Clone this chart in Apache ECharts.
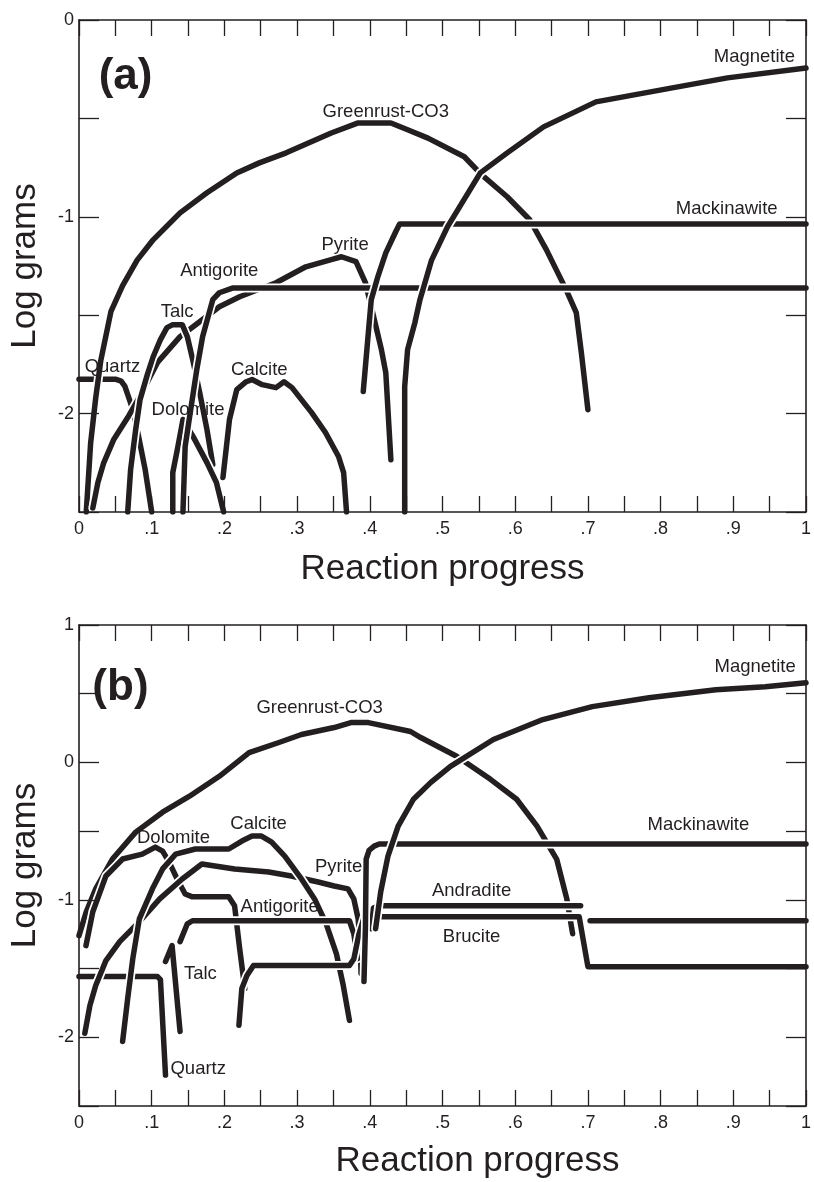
<!DOCTYPE html>
<html><head><meta charset="utf-8">
<script src="https://cdn.jsdelivr.net/npm/echarts/dist/echarts.min.js"></script>
<style>html,body{margin:0;padding:0;background:#fff}#c{width:814px;height:1182px}</style>
</head><body><div id="c"></div><script>
// ---------- tick labels ----------
const xTickLabels = ['0','.1','.2','.3','.4','.5','.6','.7','.8','.9','1'];
const yTickLabelsA = ['-2','-1','0'];
const yTickLabelsB = ['-2','-1','0','1'];

// ---------- panel (a) ----------
const quartzA = [[0,-1.825],[0.05,-1.825],[0.058,-1.835],[0.063,-1.86],[0.068,-1.914],[0.074,-1.98],[0.082,-2.117],[0.091,-2.284],[0.100,-2.5]];
const greenrustA = [[0.010,-2.5],[0.016,-2.15],[0.023,-1.92],[0.030,-1.73],[0.044,-1.48],[0.060,-1.35],[0.080,-1.22],[0.102,-1.117],[0.139,-0.98],[0.176,-0.878],[0.217,-0.777],[0.248,-0.726],[0.285,-0.675],[0.347,-0.574],[0.384,-0.523],[0.429,-0.523],[0.452,-0.558],[0.480,-0.60],[0.530,-0.695],[0.554,-0.787],[0.589,-0.898],[0.620,-1.015],[0.643,-1.168],[0.670,-1.37],[0.684,-1.487],[0.691,-1.69],[0.700,-1.98]];
const magnetiteA = [[0.448,-2.5],[0.448,-1.863],[0.452,-1.675],[0.462,-1.538],[0.469,-1.421],[0.485,-1.22],[0.507,-1.05],[0.552,-0.777],[0.589,-0.675],[0.639,-0.543],[0.711,-0.416],[0.816,-0.345],[0.892,-0.294],[1.0,-0.244]];
const mackinawiteA = [[0.391,-1.888],[0.398,-1.589],[0.402,-1.421],[0.411,-1.305],[0.422,-1.183],[0.435,-1.081],[0.441,-1.036],[1.0,-1.036]];
const pyriteA = [[0.019,-2.48],[0.026,-2.35],[0.034,-2.25],[0.048,-2.13],[0.067,-2.02],[0.084,-1.91],[0.108,-1.74],[0.139,-1.609],[0.166,-1.533],[0.193,-1.457],[0.221,-1.406],[0.271,-1.335],[0.312,-1.254],[0.347,-1.218],[0.361,-1.203],[0.381,-1.228],[0.394,-1.335],[0.402,-1.457],[0.416,-1.675],[0.422,-1.792],[0.429,-2.234]];
const antigoriteA = [[0.143,-2.5],[0.146,-2.168],[0.153,-1.995],[0.162,-1.777],[0.170,-1.609],[0.184,-1.421],[0.193,-1.386],[0.211,-1.362],[1.0,-1.362]];
const talcA = [[0.067,-2.5],[0.071,-2.284],[0.078,-2.08],[0.084,-1.929],[0.094,-1.802],[0.102,-1.711],[0.112,-1.624],[0.121,-1.563],[0.129,-1.548],[0.142,-1.548],[0.149,-1.609],[0.157,-1.736],[0.166,-1.893],[0.176,-2.081],[0.184,-2.259]];
const dolomiteA = [[0.129,-2.5],[0.129,-2.30],[0.136,-2.168],[0.143,-2.03],[0.157,-2.117],[0.176,-2.249],[0.189,-2.35],[0.199,-2.5]];
const calciteA = [[0.198,-2.325],[0.207,-2.03],[0.217,-1.878],[0.230,-1.838],[0.238,-1.827],[0.252,-1.853],[0.271,-1.868],[0.282,-1.838],[0.293,-1.868],[0.320,-1.995],[0.339,-2.096],[0.357,-2.218],[0.364,-2.3],[0.368,-2.5]];
const labelsA = [['(a)',0.064,-0.289],['Greenrust-CO3',0.422,-0.467],['Magnetite',0.929,-0.188],['Mackinawite',0.891,-0.959],['Pyrite',0.366,-1.142],['Antigorite',0.193,-1.274],['Talc',0.135,-1.482],['Quartz',0.046,-1.761],['Dolomite',0.150,-1.98],['Calcite',0.248,-1.777]];

// ---------- panel (b) ----------
const greenrustB = [[0.0,-1.26],[0.010,-1.087],[0.023,-0.92],[0.046,-0.703],[0.078,-0.507],[0.115,-0.362],[0.152,-0.246],[0.193,-0.101],[0.234,0.072],[0.275,0.145],[0.306,0.203],[0.351,0.254],[0.374,0.29],[0.398,0.29],[0.456,0.225],[0.470,0.181],[0.520,0.043],[0.566,-0.123],[0.602,-0.268],[0.630,-0.464],[0.657,-0.703],[0.671,-0.993],[0.679,-1.246]];
const magnetiteB = [[0.408,-1.21],[0.415,-0.942],[0.425,-0.681],[0.439,-0.464],[0.460,-0.268],[0.484,-0.145],[0.511,-0.029],[0.570,0.167],[0.638,0.312],[0.706,0.406],[0.784,0.471],[0.876,0.529],[0.944,0.551],[1.0,0.58]];
const mackinawiteB = [[0.392,-1.594],[0.394,-1.2],[0.395,-0.703],[0.399,-0.64],[0.406,-0.609],[0.413,-0.594],[1.0,-0.594]];
const dolomiteB = [[0.0096,-1.333],[0.019,-1.087],[0.037,-0.826],[0.060,-0.703],[0.087,-0.667],[0.105,-0.616],[0.115,-0.645],[0.124,-0.725],[0.135,-0.848],[0.146,-0.957],[0.156,-0.978],[0.206,-0.978],[0.214,-1.043],[0.221,-1.355],[0.228,-1.645]];
const calciteB = [[0.060,-2.03],[0.067,-1.717],[0.074,-1.428],[0.083,-1.138],[0.101,-0.92],[0.115,-0.775],[0.133,-0.667],[0.160,-0.63],[0.206,-0.63],[0.224,-0.572],[0.238,-0.536],[0.251,-0.536],[0.265,-0.58],[0.283,-0.681],[0.306,-0.848],[0.324,-0.993],[0.340,-1.174],[0.354,-1.391],[0.363,-1.609],[0.372,-1.877]];
const pyriteB = [[0.008,-1.971],[0.015,-1.768],[0.023,-1.623],[0.037,-1.442],[0.056,-1.304],[0.083,-1.159],[0.111,-0.993],[0.142,-0.848],[0.169,-0.739],[0.187,-0.754],[0.214,-0.775],[0.261,-0.797],[0.292,-0.826],[0.329,-0.870],[0.351,-0.899],[0.370,-0.920],[0.378,-0.993],[0.384,-1.138],[0.387,-1.355],[0.388,-1.536]];
const antigoriteB1 = [[0.139,-1.304],[0.149,-1.174],[0.156,-1.152],[0.372,-1.152],[0.378,-1.246],[0.383,-1.428]];
const antigoriteB2 = [[0.703,-1.152],[1.0,-1.152]];
const talcB = [[0.119,-1.449],[0.128,-1.333],[0.139,-1.957]];
const quartzB = [[0,-1.558],[0.108,-1.558],[0.112,-1.58],[0.119,-2.275]];
const andraditeB = [[0.402,-1.21],[0.405,-1.06],[0.412,-1.043],[0.690,-1.043]];
const bruciteB = [[0.220,-1.913],[0.224,-1.645],[0.231,-1.551],[0.240,-1.478],[0.372,-1.478],[0.378,-1.43],[0.385,-1.25],[0.392,-1.13],[0.400,-1.123],[0.688,-1.123],[0.700,-1.486],[1.0,-1.486]];
const labelsB = [['(b)',0.057,0.543],['Greenrust-CO3',0.331,0.399],['Magnetite',0.930,0.696],['Mackinawite',0.852,-0.457],['Andradite',0.540,-0.935],['Brucite',0.540,-1.268],['Dolomite',0.130,-0.551],['Calcite',0.247,-0.449],['Pyrite',0.357,-0.761],['Antigorite',0.276,-1.051],['Talc',0.167,-1.536],['Quartz',0.164,-2.232]];

// ---------- styling ----------
const FONT = '"Liberation Sans", Arial, Helvetica, sans-serif';
const INK = '#231f20';

function xLabel(v){ const k = Math.round(v*20); return (k % 2) ? '' : xTickLabels[k/2]; }
function yLabelFn(list){ return v => { const k = Math.round(v*2); if (k % 2) return ''; const s = String(k/2); return list.indexOf(s) >= 0 ? s : ''; }; }

const axLine = {show:true, onZero:false, lineStyle:{color:INK, width:1.6}};
function xAxes(gi, titleOpts){
  return [
    {type:'value', gridIndex:gi, min:0, max:1, interval:0.05, position:'bottom', z:5,
     axisLine:axLine, axisTick:{show:true, inside:true, length:16, lineStyle:{color:INK, width:1.3}},
     axisLabel:{show:true, margin:8, fontSize:18, color:INK, fontFamily:FONT, formatter:xLabel},
     splitLine:{show:false},
     name:'Reaction progress', nameLocation:'middle', nameGap:titleOpts.gap,
     nameTextStyle:Object.assign({fontSize:35, color:INK, fontFamily:FONT}, titleOpts.style||{})},
    {type:'value', gridIndex:gi, min:0, max:1, interval:0.05, position:'top', z:5,
     axisLine:axLine, axisTick:{show:true, inside:true, length:16, lineStyle:{color:INK, width:1.3}},
     axisLabel:{show:false}, splitLine:{show:false}}
  ];
}
function yAxes(gi, min, max, labels){
  return [
    {type:'value', gridIndex:gi, min:min, max:max, interval:0.5, position:'left', z:5,
     axisLine:axLine, axisTick:{show:true, inside:true, length:20, lineStyle:{color:INK, width:1.3}},
     axisLabel:{show:true, margin:5, fontSize:18, color:INK, fontFamily:FONT, formatter:yLabelFn(labels)},
     splitLine:{show:false},
     name:'Log grams', nameLocation:'middle', nameRotate:90, nameGap:36,
     nameTextStyle:{fontSize:35, color:INK, fontFamily:FONT}},
    {type:'value', gridIndex:gi, min:min, max:max, interval:0.5, position:'right', z:5,
     axisLine:axLine, axisTick:{show:true, inside:true, length:20, lineStyle:{color:INK, width:1.3}},
     axisLabel:{show:false}, splitLine:{show:false}}
  ];
}

const series = [];
function addLine(name, data, xi, yi){
  series.push({type:'line', name:name+'-casing', data:data, xAxisIndex:xi, yAxisIndex:yi, showSymbol:false, symbol:'none', silent:true,
    lineStyle:{color:'#ffffff', width:9, cap:'round', join:'round'}, z:2});
  series.push({type:'line', name:name, data:data, xAxisIndex:xi, yAxisIndex:yi, showSymbol:false, symbol:'none',
    lineStyle:{color:INK, width:5.5, cap:'round', join:'round'}, z:2});
}
function addLabels(list, xi, yi){
  series.push({type:'scatter', xAxisIndex:xi, yAxisIndex:yi, symbolSize:1, itemStyle:{color:'rgba(0,0,0,0)', opacity:1}, z:4, silent:true,
    data:list.map(l => {
      const d = {name:l[0], value:[l[1], l[2]]};
      if (l[0] === '(a)' || l[0] === '(b)') d.label = {fontSize:44, fontWeight:'bold'};
      return d;
    }),
    label:{show:true, position:'inside', formatter:'{b}', color:INK, opacity:1, fontFamily:FONT, fontSize:18.5},
    emphasis:{disabled:true},
    labelLayout:{hideOverlap:false}
  });
}

// panel (a): x axes 0/1, y axes 0/1
addLine('Quartz', quartzA, 0, 0);
addLine('Greenrust-CO3', greenrustA, 0, 0);
addLine('Pyrite', pyriteA, 0, 0);
addLine('Talc', talcA, 0, 0);
addLine('Dolomite', dolomiteA, 0, 0);
addLine('Antigorite', antigoriteA, 0, 0);
addLine('Calcite', calciteA, 0, 0);
addLine('Mackinawite', mackinawiteA, 0, 0);
addLine('Magnetite', magnetiteA, 0, 0);
addLabels(labelsA, 0, 0);

// panel (b): x axes 2/3, y axes 2/3
addLine('Quartz', quartzB, 2, 2);
addLine('Greenrust-CO3', greenrustB, 2, 2);
addLine('Dolomite', dolomiteB, 2, 2);
addLine('Pyrite', pyriteB, 2, 2);
addLine('Calcite', calciteB, 2, 2);
addLine('Talc', talcB, 2, 2);
addLine('Antigorite', antigoriteB1, 2, 2);
addLine('Brucite', bruciteB, 2, 2);
addLine('Antigorite', antigoriteB2, 2, 2);
addLine('Andradite', andraditeB, 2, 2);
addLine('Mackinawite', mackinawiteB, 2, 2);
addLine('Magnetite', magnetiteB, 2, 2);
addLabels(labelsB, 2, 2);

const chart = echarts.init(document.getElementById('c'), null, {renderer:'canvas'});
chart.setOption({
  animation:false,
  backgroundColor:'#ffffff',
  grid:[
    {left:78, top:20, width:734, height:492},
    {left:76, top:625, width:732, height:481}
  ],
  xAxis:[].concat(xAxes(0, {gap:40}), xAxes(1, {gap:38, style:{padding:[0,0,0,70]}})),
  yAxis:[].concat(yAxes(0, -2.5, 0, yTickLabelsA), yAxes(1, -2.5, 1, yTickLabelsB)),
  series:series
});
</script></body></html>
